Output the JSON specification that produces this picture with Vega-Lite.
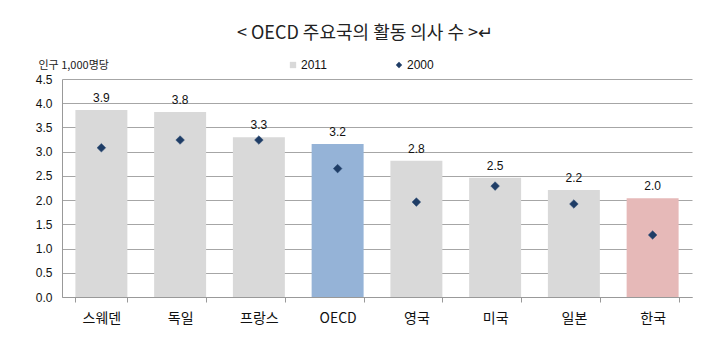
{
  "$schema": "https://vega.github.io/schema/vega-lite/v6.json",
  "width": 630,
  "height": 218,
  "autosize": "none",
  "padding": {"left": 62, "top": 79, "right": 28, "bottom": 56},
  "background": "white",
  "title": {
    "text": "< OECD 주요국의 활동 의사 수 >↵",
    "font": "Noto Sans CJK KR",
    "fontSize": 18,
    "fontWeight": "normal",
    "color": "#222222",
    "anchor": "middle",
    "dx": -12,
    "offset": 16
  },
  "data": {
    "values": [
      {"country": "스웨덴", "y2011": 3.86, "y2000": 3.08, "group": "base", "series": "2000"},
      {"country": "독일", "y2011": 3.82, "y2000": 3.24, "group": "base", "series": "2000"},
      {"country": "프랑스", "y2011": 3.30, "y2000": 3.24, "group": "base", "series": "2000"},
      {"country": "OECD", "y2011": 3.16, "y2000": 2.65, "group": "oecd", "series": "2000"},
      {"country": "영국", "y2011": 2.81, "y2000": 1.96, "group": "base", "series": "2000"},
      {"country": "미국", "y2011": 2.46, "y2000": 2.29, "group": "base", "series": "2000"},
      {"country": "일본", "y2011": 2.21, "y2000": 1.92, "group": "base", "series": "2000"},
      {"country": "한국", "y2011": 2.04, "y2000": 1.28, "group": "korea", "series": "2000"}
    ]
  },
  "encoding": {
    "x": {
      "field": "country",
      "type": "nominal",
      "sort": null,
      "scale": {"paddingInner": 0.34, "paddingOuter": 0.17},
      "axis": {
        "title": null,
        "labelAngle": 0,
        "labelFont": "Noto Sans CJK KR",
        "labelFontSize": 14,
        "labelColor": "#111111",
        "labelPadding": 9,
        "tickBand": "extent",
        "tickSize": 5,
        "tickColor": "#999999",
        "domainColor": "#999999",
        "grid": false
      }
    }
  },
  "layer": [
    {
      "mark": {"type": "bar"},
      "encoding": {
        "y": {
          "field": "y2011",
          "type": "quantitative",
          "scale": {"domain": [0, 4.5], "nice": false},
          "axis": {
            "values": [0, 0.5, 1, 1.5, 2, 2.5, 3, 3.5, 4, 4.5],
            "format": ".1f",
            "labelOverlap": false,
            "labelBound": false,
            "title": "인구 1,000명당",
            "titleAngle": 0,
            "titleAlign": "left",
            "titleBaseline": "middle",
            "titleX": -24,
            "titleY": -14,
            "titleFont": "Noto Sans CJK KR",
            "titleFontSize": 11,
            "titleFontWeight": "normal",
            "titleColor": "#222222",
            "labelFont": "Liberation Sans",
            "labelFontSize": 12,
            "labelColor": "#111111",
            "labelPadding": 10,
            "tickSize": 0,
            "domainColor": "#999999",
            "grid": true,
            "gridColor": "#a6a6a6",
            "gridWidth": 1
          }
        },
        "fill": {
          "field": "group",
          "type": "nominal",
          "scale": {"domain": ["base", "oecd", "korea"], "range": ["#d9d9d9", "#95b3d7", "#e6b9b8"]},
          "legend": null
        }
      }
    },
    {
      "mark": {"type": "text", "dy": -12, "font": "Liberation Sans", "fontSize": 12, "color": "#111111"},
      "encoding": {
        "y": {
          "field": "y2011",
          "type": "quantitative",
          "axis": {
            "values": [0, 0.5, 1, 1.5, 2, 2.5, 3, 3.5, 4, 4.5],
            "format": ".1f",
            "labelOverlap": false,
            "labelBound": false,
            "title": "인구 1,000명당",
            "grid": true
          }
        },
        "text": {"field": "y2011", "type": "quantitative", "format": ".1f"}
      }
    },
    {
      "mark": {"type": "point", "filled": true, "size": 75, "opacity": 1, "stroke": "#2c4d77", "strokeWidth": 0.5},
      "encoding": {
        "y": {
          "field": "y2000",
          "type": "quantitative",
          "axis": {
            "values": [0, 0.5, 1, 1.5, 2, 2.5, 3, 3.5, 4, 4.5],
            "format": ".1f",
            "labelOverlap": false,
            "labelBound": false,
            "title": "인구 1,000명당",
            "grid": true
          }
        },
        "color": {
          "field": "series",
          "type": "nominal",
          "scale": {"domain": ["2011", "2000"], "range": ["#d9d9d9", "#1f3d66"]},
          "legend": {
            "title": null,
            "orient": "none",
            "direction": "horizontal",
            "legendX": 225,
            "legendY": -20,
            "labelFont": "Liberation Sans",
            "labelFontSize": 12,
            "labelColor": "#111111",
            "symbolSize": 40,
            "columnPadding": 66,
            "labelOffset": 2,
            "symbolStrokeWidth": 0
          }
        },
        "shape": {
          "field": "series",
          "type": "nominal",
          "scale": {"domain": ["2011", "2000"], "range": ["square", "diamond"]}
        }
      }
    }
  ],
  "config": {
    "view": {"stroke": null},
    "axis": {"domainWidth": 1}
  }
}
